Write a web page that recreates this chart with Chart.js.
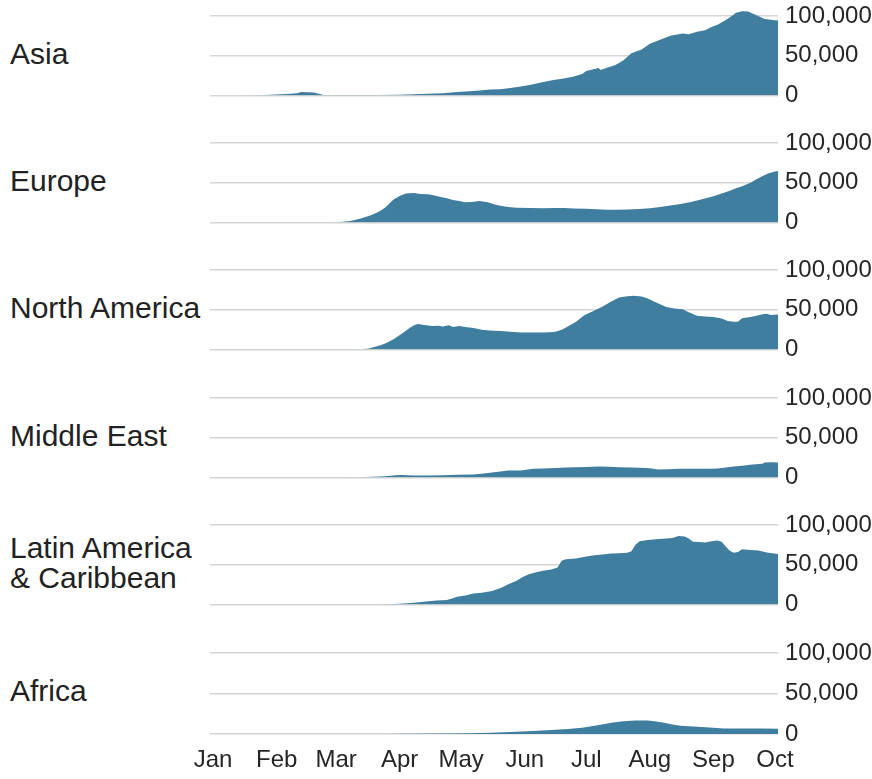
<!DOCTYPE html>
<html><head><meta charset="utf-8">
<script src="https://cdn.jsdelivr.net/npm/chart.js@4.4.0/dist/chart.umd.min.js"></script>
<style>
html,body{margin:0;padding:0;background:#fff;}
#wrap{position:relative;width:872px;height:779px;overflow:hidden;background:#fff;}
#wrap canvas{position:absolute;left:0;}
.lbl{position:absolute;left:10px;font-family:"Liberation Sans",Arial,Helvetica,sans-serif;font-size:30px;line-height:30px;color:#222;white-space:pre;}
</style></head><body><div id="wrap"></div>
<script>
// ---- data (x = day of 2020, 0 = Jan 1; y = daily new cases) ----
const regionNames = ['Asia', 'Europe', 'North America', 'Middle East', 'Latin America\n& Caribbean', 'Africa'];
const monthLabels = ['Jan','Feb','Mar','Apr','May','Jun','Jul','Aug','Sep','Oct'];
const monthStartDays = [0,31,60,91,121,152,182,213,244,274];
const yTickValues = [0, 50000, 100000];

const asiaDays  = [0,14,21,28,36,41,43,46,49,51,54,60,70,80,91,98,105,112,119,125,130,135,140,145,150,155,161,166,171,176,180,182,186,188,189,192,196,200,204,209,213,218,223,229,232,236,240,243,246,250,253,255,258,261,265,269,274,276];
const asiaCases = [0,0,300,1200,2000,3000,4500,4300,4000,2500,800,600,700,900,1200,1600,2300,3000,4500,5500,6500,7500,8000,9500,11500,13500,17000,19500,21500,24000,27000,31000,33500,34500,32000,35000,38000,44000,53000,58000,65000,70000,75000,78000,77000,80000,82000,86000,89000,95000,100000,104000,106000,105500,101000,96000,94500,94000];

const europeDays  = [0,50,57,62,67,72,77,81,84,88,91,94,98,101,105,108,111,114,117,120,123,126,130,134,137,140,144,148,155,161,166,171,176,182,187,192,197,202,208,213,218,223,228,233,238,244,248,252,255,258,262,265,268,271,274,276];
const europeCases = [0,0,200,800,2000,5000,9300,14000,19000,29000,33500,36500,37000,36000,35500,34000,32000,30500,28500,27000,25500,26000,27000,25500,23000,21000,19500,18500,18300,18000,18200,18300,17800,17300,16700,16000,16000,16500,17200,18000,19500,21500,23500,26000,29000,33000,36500,40000,43000,45500,50000,54500,58500,62000,64000,65000];

const northAmericaDays  = [0,65,72,76,79,82,85,88,92,96,98,100,103,107,110,112,115,117,120,123,127,131,135,140,145,150,155,161,164,167,170,173,177,181,186,190,194,198,202,205,209,212,215,218,221,225,229,232,236,240,244,248,251,254,256,258,262,265,268,270,272,276];
const northAmericaCases = [0,0,300,1500,3500,5700,9000,13000,20000,27500,30500,32000,31000,29500,30000,29000,30500,28500,29500,28500,27000,25000,24000,23500,22500,21500,21500,21500,21800,22500,25000,29000,35000,43000,49000,54000,60000,65500,67000,67500,66500,64000,60500,57000,53500,51500,50500,47000,42500,41500,41000,39000,36000,35000,35000,39500,41000,42500,44500,45000,43500,44000];

const middleEastDays  = [0,55,61,70,78,84,89,92,98,105,112,119,127,132,136,140,144,150,156,161,167,172,177,182,188,193,198,204,211,214,217,222,227,232,237,242,246,250,254,258,262,266,268,269,272,276];
const middleEastCases = [0,0,200,500,1000,1700,3000,3300,2500,2600,3000,3600,4000,5000,6500,7800,8900,9000,11000,11500,12200,12700,13000,13300,13800,13500,13000,12600,12200,11500,10200,10500,11000,11200,11000,11200,11500,12800,14000,15000,16200,17000,17500,18800,19200,19000];

const latinAmericaDays  = [0,65,78,83,88,93,98,104,109,114,117,119,123,127,131,136,140,144,148,151,154,158,161,165,168,170,172,177,182,186,190,194,198,202,204,206,208,212,216,221,224,227,230,232,234,237,240,243,246,248,250,252,254,256,258,262,266,270,276];
const latinAmericaCases = [0,0,200,500,900,1500,2400,4000,5000,5800,8000,10000,11500,14000,15000,17000,20500,25500,30000,34500,38000,41000,42500,44000,46500,55000,57000,58000,60500,62000,63000,64000,64500,65000,67000,75000,79500,81000,82000,83000,83500,86000,85500,83000,79000,78500,78000,79500,80500,79000,73000,67500,65000,66000,69500,68500,68000,65500,63500];

const africaDays  = [0,70,81,95,113,125,135,145,156,165,173,180,186,191,195,200,206,212,216,220,224,228,236,242,249,255,262,268,276];
const africaCases = [0,0,100,300,500,1000,1700,2600,3700,4800,6100,7800,10200,12500,14300,15800,16700,16700,15500,13800,11800,10200,9000,8000,6900,6700,6900,6700,6500];

const seriesDays  = [asiaDays, europeDays, northAmericaDays, middleEastDays, latinAmericaDays, africaDays];
const seriesCases = [asiaCases, europeCases, northAmericaCases, middleEastCases, latinAmericaCases, africaCases];

// ---- layout / style ----
const zeroY = [97, 224, 351, 479, 606, 734];
const X_MIN = -1.5, X_MAX = 275.5;
const AREA_H = 100;      // chart area height (px)
const Y_MAX = 122000;    // so that 100,000 sits ~82px above zero
const PAD_TOP = 20;
const FILL = '#3f7e9e';
const GRID = '#d6d6d6';
const TEXT = '#262626';
const FONT = '"Liberation Sans", Arial, Helvetica, sans-serif';

const wrap = document.getElementById('wrap');

regionNames.forEach((name, i) => {
  const nLines = name.split('\n').length;
  const d = document.createElement('div');
  d.className = 'lbl';
  d.textContent = name;
  d.style.top = (zeroY[i] - 58 - 15 * (nLines - 1)) + 'px';
  wrap.appendChild(d);
});

regionNames.forEach((name, i) => {
  const isLast = i === regionNames.length - 1;
  const xAxisH = 45;
  const H = PAD_TOP + AREA_H + (isLast ? xAxisH : 20);
  const cv = document.createElement('canvas');
  cv.width = 872; cv.height = H;
  cv.style.width = '872px'; cv.style.height = H + 'px';
  cv.style.top = (zeroY[i] - PAD_TOP - AREA_H) + 'px';
  wrap.appendChild(cv);

  const pts = seriesDays[i].map((d, k) => ({x: d, y: seriesCases[i][k]}));

  const xScale = {
    type: 'linear',
    min: X_MIN, max: X_MAX,
    display: isLast,
    grid: { display: false, drawTicks: false },
    border: { display: false },
    afterBuildTicks: (s) => { s.ticks = monthStartDays.map(v => ({value: v})); },
    ticks: {
      autoSkip: false, maxRotation: 0, minRotation: 0,
      padding: 12,
      color: TEXT,
      font: { family: FONT, size: 24 },
      callback: (v) => { const k = monthStartDays.indexOf(v); return k >= 0 ? monthLabels[k] : ''; }
    }
  };
  if (isLast) xScale.afterFit = (s) => { s.height = xAxisH; };

  new Chart(cv.getContext('2d'), {
    type: 'line',
    data: { datasets: [{
      data: pts,
      fill: 'origin',
      backgroundColor: FILL,
      borderWidth: 0,
      borderColor: FILL,
      pointRadius: 0,
      tension: 0
    }]},
    options: {
      responsive: false,
      animation: false,
      events: [],
      layout: { padding: { left: 210, right: 0, top: PAD_TOP, bottom: isLast ? 0 : 20 } },
      plugins: { legend: { display: false }, tooltip: { enabled: false }, title: { display: false } },
      scales: {
        x: xScale,
        y: {
          position: 'right',
          min: 0, max: Y_MAX,
          afterBuildTicks: (s) => { s.ticks = yTickValues.map(v => ({value: v})); },
          afterFit: (s) => { s.width = 94; },
          grid: { color: GRID, lineWidth: 1.5, drawTicks: false },
          border: { display: false },
          ticks: {
            autoSkip: false,
            padding: 7,
            color: TEXT,
            font: { family: FONT, size: 24 },
            callback: (v) => Number(v).toLocaleString('en-US')
          }
        }
      }
    }
  });
});
</script>
</body></html>
